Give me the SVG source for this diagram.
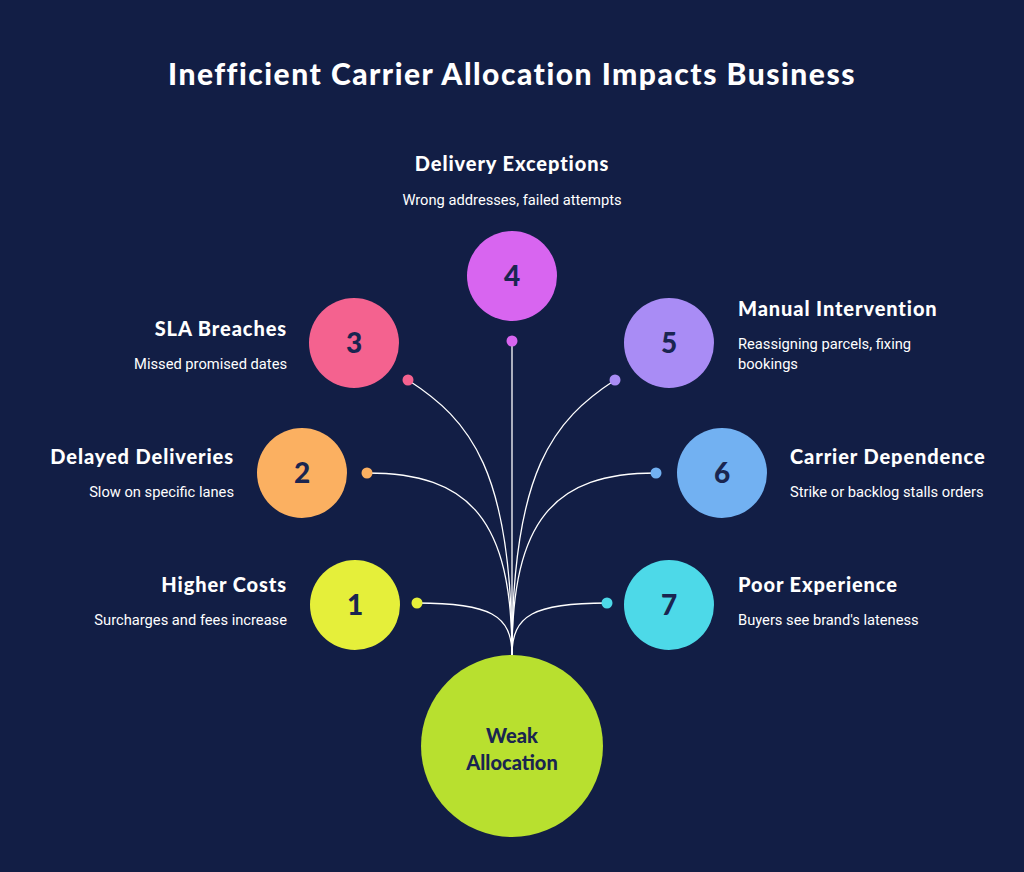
<svg xmlns="http://www.w3.org/2000/svg" width="1024" height="872" viewBox="0 0 1024 872">
<style>
.t{font-family:Lato,"Noto Sans",sans-serif;font-weight:900;font-size:20px;letter-spacing:0.9px;fill:#fff}
.d{font-family:Roboto,"Liberation Sans",sans-serif;font-size:14.7px;fill:#fff}
.n{font-family:Lato,"Noto Sans",sans-serif;font-weight:900;font-size:28px;fill:#1a2550;text-anchor:middle}
.c{fill:none;stroke:#fff;stroke-width:1.3}
</style>
<rect width="1024" height="872" fill="#121e45"/>
<text x="512" y="85" text-anchor="middle" style="font-family:Lato,sans-serif;font-weight:900;font-size:30px;letter-spacing:1.5px;fill:#fff">Inefficient Carrier Allocation Impacts Business</text>
<g id="connectors">
<path class="c" d="M417,603 C490,603 512,615 512,655"/>
<path class="c" d="M367,473 C470,473 512,520 512,655"/>
<path class="c" d="M408,380 C470,420 512,470 512,655"/>
<path class="c" d="M512,341 L512,655"/>
<path class="c" d="M615,380 C554,420 512,470 512,655"/>
<path class="c" d="M656,473 C554,473 512,520 512,655"/>
<path class="c" d="M607,603 C534,603 512,615 512,655"/>
<circle cx="417" cy="603" r="5.5" fill="#e5ef3a"/>
<circle cx="367" cy="473" r="5.5" fill="#fbb061"/>
<circle cx="408" cy="380" r="5.5" fill="#f4628f"/>
<circle cx="512" cy="341" r="5.5" fill="#d865f0"/>
<circle cx="615" cy="380" r="5.5" fill="#a98cf5"/>
<circle cx="656" cy="473" r="5.5" fill="#72b1f2"/>
<circle cx="607" cy="603" r="5.5" fill="#4dd9e8"/>
</g>
<g id="center"><circle cx="512" cy="746" r="91" fill="#b8e02f"/>
<text class="n" x="512" y="743" style="font-size:20px">Weak</text><text class="n" x="512" y="770" style="font-size:20px">Allocation</text></g>
<g id="n1"><circle cx="355" cy="605" r="45" fill="#e5ef3a"/><text class="n" x="355" y="615">1</text>
<text class="t" x="287" y="592" text-anchor="end">Higher Costs</text><text class="d" x="287" y="625" text-anchor="end">Surcharges and fees increase</text></g>
<g id="n2"><circle cx="302" cy="473" r="45" fill="#fbb061"/><text class="n" x="302" y="483">2</text>
<text class="t" x="234" y="464" text-anchor="end">Delayed Deliveries</text><text class="d" x="234" y="497" text-anchor="end">Slow on specific lanes</text></g>
<g id="n3"><circle cx="354" cy="343" r="45" fill="#f4628f"/><text class="n" x="354" y="353">3</text>
<text class="t" x="287" y="336" text-anchor="end">SLA Breaches</text><text class="d" x="287" y="369" text-anchor="end">Missed promised dates</text></g>
<g id="n4"><circle cx="512" cy="276" r="45" fill="#d865f0"/><text class="n" x="512" y="286">4</text>
<text class="t" x="512" y="171" text-anchor="middle">Delivery Exceptions</text><text class="d" x="512" y="205" text-anchor="middle">Wrong addresses, failed attempts</text></g>
<g id="n5"><circle cx="669" cy="343" r="45" fill="#a98cf5"/><text class="n" x="669" y="353">5</text>
<text class="t" x="738" y="316">Manual Intervention</text><text class="d" x="738" y="349">Reassigning parcels, fixing</text><text class="d" x="738" y="369">bookings</text></g>
<g id="n6"><circle cx="722" cy="473" r="45" fill="#72b1f2"/><text class="n" x="722" y="483">6</text>
<text class="t" x="790" y="464">Carrier Dependence</text><text class="d" x="790" y="497">Strike or backlog stalls orders</text></g>
<g id="n7"><circle cx="669" cy="605" r="45" fill="#4dd9e8"/><text class="n" x="669" y="615">7</text>
<text class="t" x="738" y="592">Poor Experience</text><text class="d" x="738" y="625">Buyers see brand's lateness</text></g>
</svg>
